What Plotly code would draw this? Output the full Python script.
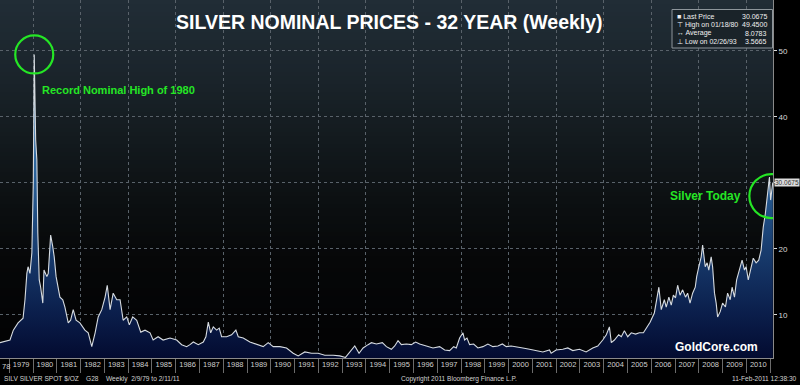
import plotly.graph_objects as go

# ---------------- data ----------------
years = [
    1978.61, 1979.03, 1979.17, 1979.37, 1979.58, 1979.66, 1979.74, 1979.79, 1979.87, 1979.95,
    1980.01, 1980.05, 1980.11, 1980.16, 1980.20, 1980.26, 1980.32, 1980.41, 1980.46, 1980.58,
    1980.64, 1980.74, 1980.83, 1980.89, 1980.97, 1981.06, 1981.13, 1981.25, 1981.34, 1981.48,
    1981.58, 1981.69, 1981.81, 1981.97, 1982.18, 1982.32, 1982.47, 1982.61, 1982.74, 1982.89,
    1983.03, 1983.12, 1983.24, 1983.37, 1983.52, 1983.66, 1983.79, 1983.94, 1984.05, 1984.19,
    1984.36, 1984.53, 1984.71, 1984.92, 1985.05, 1985.26, 1985.47, 1985.76, 1986.04, 1986.25,
    1986.46, 1986.60, 1986.74, 1986.95, 1987.16, 1987.27, 1987.37, 1987.47, 1987.58, 1987.72,
    1987.83, 1987.93, 1988.14, 1988.35, 1988.53, 1988.63, 1988.84, 1989.12, 1989.40, 1989.68,
    1989.89, 1990.10, 1990.38, 1990.66, 1990.94, 1991.15, 1991.43, 1991.71, 1991.99, 1992.27,
    1992.62, 1992.90, 1993.14, 1993.32, 1993.53, 1993.71, 1993.88, 1994.09, 1994.23, 1994.44,
    1994.69, 1994.86, 1995.07, 1995.21, 1995.35, 1995.49, 1995.70, 1995.91, 1996.09, 1996.26,
    1996.54, 1996.82, 1997.10, 1997.31, 1997.52, 1997.69, 1997.80, 1997.94, 1998.08, 1998.15,
    1998.25, 1998.36, 1998.53, 1998.71, 1998.92, 1999.13, 1999.34, 1999.55, 1999.74, 1999.90,
    2000.11, 2000.32, 2000.60, 2000.88, 2001.16, 2001.44, 2001.72, 2001.79, 2002.00, 2002.28,
    2002.49, 2002.70, 2002.98, 2003.26, 2003.54, 2003.75, 2003.96, 2004.11, 2004.24, 2004.32,
    2004.45, 2004.63, 2004.74, 2004.87, 2005.01, 2005.16, 2005.34, 2005.50, 2005.67, 2005.81,
    2005.95, 2006.13, 2006.23, 2006.32, 2006.42, 2006.55, 2006.63, 2006.74, 2006.84, 2006.93,
    2007.02, 2007.11, 2007.21, 2007.32, 2007.44, 2007.53, 2007.63, 2007.74, 2007.85, 2007.91,
    2008.00, 2008.10, 2008.16, 2008.27, 2008.35, 2008.42, 2008.52, 2008.58, 2008.66, 2008.73,
    2008.79, 2008.90, 2009.00, 2009.12, 2009.21, 2009.32, 2009.40, 2009.50, 2009.59, 2009.71,
    2009.82, 2009.92, 2009.99, 2010.08, 2010.20, 2010.29, 2010.41, 2010.52, 2010.62, 2010.71,
    2010.80, 2010.88, 2010.97, 2011.02, 2011.11,
]
prices = [
    5.8, 6.2, 7.7, 8.8, 9.5, 12.3, 16.3, 17.3, 16.3, 19.4,
    30.0, 49.45, 36.5, 33.5, 22.4, 15.3, 14.2, 11.8, 16.8, 15.8,
    16.3, 22.1, 20.3, 18.8, 15.8, 14.2, 12.7, 12.3, 11.2, 8.8,
    9.2, 10.8, 9.2, 8.8, 7.7, 7.3, 5.2, 7.3, 9.7, 10.8,
    12.7, 14.5, 10.8, 13.3, 12.3, 12.3, 9.2, 9.7, 8.5, 9.7,
    9.2, 7.4, 7.7, 7.3, 6.2, 6.7, 6.2, 6.5, 6.2, 5.5,
    5.2, 5.5, 5.9, 5.5, 5.9, 6.7, 8.9, 7.3, 8.2, 7.7,
    8.0, 6.7, 6.7, 7.0, 7.7, 6.7, 6.5, 5.9, 5.5, 5.2,
    5.8, 5.2, 5.2, 5.0, 4.2, 3.8, 4.4, 4.2, 4.2, 3.9,
    3.9, 3.8, 3.57, 4.4, 5.3, 4.2, 5.0, 5.5, 5.8, 5.6,
    5.8, 5.2, 4.8, 5.3, 6.1, 5.5, 5.6, 5.5, 5.9, 5.6,
    5.3, 5.0, 5.2, 4.7, 4.6, 5.2, 5.0, 6.5, 7.3, 6.2,
    6.5, 5.5, 5.6, 5.0, 5.2, 5.6, 5.2, 5.3, 5.6, 5.2,
    5.3, 5.2, 5.0, 4.8, 4.6, 4.4, 4.7, 4.2, 4.7, 4.8,
    5.0, 4.6, 4.8, 4.4, 5.0, 5.3, 6.2, 7.0, 8.2, 5.8,
    6.2, 7.0, 6.7, 7.6, 6.7, 7.3, 7.1, 7.3, 7.3, 8.2,
    8.9, 10.3, 12.7, 14.2, 10.8, 12.3, 11.2, 12.7, 11.5, 13.0,
    12.6, 14.5, 13.0, 13.8, 12.7, 13.3, 11.8, 13.3, 14.2, 15.8,
    17.3, 18.8, 20.6, 17.3, 17.9, 16.8, 18.8, 17.3, 13.3, 11.8,
    9.7, 10.5, 11.8, 11.2, 13.3, 12.3, 14.2, 12.7, 15.3, 16.8,
    18.3, 16.8, 17.3, 15.3, 17.3, 18.6, 17.9, 18.3, 19.8, 23.3,
    25.4, 28.5, 30.9, 27.4, 30.0675,
]

year_labels = list(range(1979, 2011))
year_bounds = list(range(1979, 2012))
grid_years = [y for y in year_bounds if y % 2 == 0]
minor_years = [y for y in year_bounds if y % 2 == 1]
y_ticks = [10, 20, 30, 40, 50]
y_ticktext = ["10", "20", "", "40", "50"]

stat_names = ["\u25a0 Last Price", "\u22a4 High on 01/18/80", "\u2194 Average", "\u22a5 Low on 02/26/93"]
stat_values = ["30.0675", "49.4500", "8.0783", "3.5665"]
last_price = 30.0675
high_year, high_price = 1980.05, 49.45

title_text = "SILVER NOMINAL PRICES - 32 YEAR (Weekly)"

# ---------------- geometry helpers ----------------
W, H = 800, 385
PL, PR, PT, PB = 0, 773, 0, 358  # plot area in pixels


def px(xp):
    return (xp - PL) / (PR - PL)


def py(yp):
    return 1 - (yp - PT) / (PB - PT)


fig = go.Figure()

fig.add_trace(go.Scatter(
    x=years, y=prices, mode="lines",
    line=dict(color="#d6dbe0", width=1.1),
    fill="tozeroy",
    fillgradient=dict(
        type="vertical",
        colorscale=[[0, "#030b30"], [0.15, "#0b1f4c"], [0.35, "#183c6e"],
                    [0.6, "#2a629a"], [1, "#5a98ca"]],
        start=3.5, stop=50,
    ),
    hoverinfo="skip", showlegend=False,
))
# invisible trace to activate the label axis
fig.add_trace(go.Scatter(x=[years[0], years[-1]], y=[None, None], xaxis="x2",
                         mode="lines", showlegend=False, hoverinfo="skip"))

# ---------------- background gradient bands ----------------
stops = [(0, (33, 45, 54)), (70, (27, 37, 44)), (140, (19, 26, 30)),
         (200, (12, 16, 18)), (260, (6, 7, 8)), (358, (2, 2, 3))]


def col_at(yp):
    for (y0, c0), (y1, c1) in zip(stops[:-1], stops[1:]):
        if y0 <= yp <= y1:
            t = (yp - y0) / (y1 - y0)
            return "rgb(%d,%d,%d)" % tuple(round(a + (b - a) * t) for a, b in zip(c0, c1))
    return "rgb(2,2,3)"


shapes = []
band = 4
for yp in range(0, 358, band):
    shapes.append(dict(type="rect", xref="paper", yref="paper", x0=0, x1=1,
                       y0=py(min(yp + band, 358)), y1=py(yp), fillcolor=col_at(yp + band / 2),
                       line=dict(width=0), layer="below"))

# green circles
green = "#25e625"
shapes.append(dict(type="circle", xref="x", yref="y", xsizemode="pixel", ysizemode="pixel",
                   xanchor=high_year, yanchor=high_price, x0=-19, x1=19, y0=-19, y1=19,
                   line=dict(color=green, width=2.2), layer="above"))
shapes.append(dict(type="circle", xref="x", yref="y", xsizemode="pixel", ysizemode="pixel",
                   xanchor=2011.05, yanchor=28.0, x0=-22, x1=22, y0=-22, y1=22,
                   line=dict(color=green, width=2.2), layer="above"))

# stats box
shapes.append(dict(type="rect", xref="paper", yref="paper", x0=px(672), x1=px(772.5),
                   y0=py(48), y1=py(9.5), fillcolor="#1a2329",
                   line=dict(color="#8d959b", width=1), layer="above"))

annotations = []
annotations.append(dict(text="<b>" + title_text + "</b>", xref="paper", yref="paper",
                        x=px(390), y=py(22), xanchor="center", yanchor="middle", showarrow=False,
                        font=dict(family="Liberation Sans, Arial", size=19.5, color="white")))
annotations.append(dict(text="<b>Record Nominal High of 1980</b>", xref="paper", yref="paper",
                        x=px(40), y=py(90), xanchor="left", yanchor="middle", showarrow=False,
                        font=dict(family="Liberation Sans, Arial", size=11, color=green)))
annotations.append(dict(text="<b>Silver Today</b>", xref="paper", yref="paper",
                        x=px(743), y=py(196), xanchor="right", yanchor="middle", showarrow=False,
                        font=dict(family="Liberation Sans, Arial", size=12, color=green)))
annotations.append(dict(text="<b>GoldCore.com</b>", xref="paper", yref="paper",
                        x=px(716), y=py(346.5), xanchor="center", yanchor="middle", showarrow=False,
                        font=dict(family="Liberation Sans, Arial", size=12, color="white")))

for i, (nm, val) in enumerate(zip(stat_names, stat_values)):
    ypix = 16.5 + i * 8.4
    annotations.append(dict(text=nm, xref="paper", yref="paper", x=px(675), y=py(ypix),
                            xanchor="left", yanchor="middle", showarrow=False,
                            font=dict(family="Liberation Sans, Arial", size=7, color="#f0f0f0")))
    annotations.append(dict(text=val, xref="paper", yref="paper", x=px(769), y=py(ypix),
                            xanchor="right", yanchor="middle", showarrow=False,
                            font=dict(family="Liberation Sans, Arial", size=7, color="#f0f0f0")))

# last price tag on right axis
annotations.append(dict(text="%.4f" % last_price, xref="paper", yref="y", x=px(774), y=last_price,
                        xanchor="left", yanchor="middle", showarrow=False, bgcolor="#dcdcdc",
                        borderpad=0, font=dict(family="Liberation Sans, Arial", size=6.5, color="#333333")))

# partially visible 1978 label
annotations.append(dict(text="78", xref="paper", yref="paper", x=0, y=py(366),
                        xanchor="left", yanchor="middle", showarrow=False,
                        font=dict(family="Liberation Sans, Arial", size=7.5, color="#cfcfcf")))

# footer
foot_font = dict(family="Liberation Sans, Arial", size=6.6, color="#d2d2d2")
for txt, xp, anc in [("SILV SILVER SPOT $/OZ", 2, "left"), ("G28", 84, "left"),
                     ("Weekly  2/9/79 to 2/11/11", 104, "left"),
                     ("Copyright 2011 Bloomberg Finance L.P.", 399, "left"),
                     ("11-Feb-2011 12:38:30", 799, "right")]:
    annotations.append(dict(text=txt.replace(" ", "\u00a0"), xref="paper", yref="paper",
                            x=px(xp), y=py(378.5), xanchor=anc, yanchor="middle",
                            showarrow=False, font=foot_font))

xr = [1978.61, 2011.12]
fig.update_layout(
    width=W, height=H,
    margin=dict(l=PL, r=W - PR, t=PT, b=H - PB, pad=0),
    paper_bgcolor="black", plot_bgcolor="#050505",
    showlegend=False,
    shapes=shapes, annotations=annotations,
    xaxis=dict(range=xr, tickmode="array", tickvals=grid_years, showticklabels=False,
               ticks="outside", ticklen=14, tickcolor="#6b6b6b", tickwidth=1,
               showgrid=True, gridcolor="#59626a", griddash="dot", gridwidth=1,
               minor=dict(tickmode="array", tickvals=minor_years, ticks="outside", ticklen=14,
                          tickcolor="#6b6b6b", showgrid=False),
               showline=True, linecolor="#8a8a8a", zeroline=False, fixedrange=True),
    xaxis2=dict(range=xr, overlaying="x", side="bottom", tickmode="array",
                tickvals=[y + 0.5 for y in year_labels], ticktext=[str(y) for y in year_labels],
                ticks="", showgrid=False, zeroline=False, showline=False,
                tickfont=dict(family="Liberation Sans, Arial", size=7.5, color="#cfcfcf")),
    yaxis=dict(range=[3.48, 57.7], side="right", tickmode="array", tickvals=y_ticks,
               ticktext=y_ticktext, ticks="outside", ticklen=3, tickcolor="#dddddd",
               tickfont=dict(family="Liberation Sans, Arial", size=8, color="#d8d8d8"),
               showgrid=True, gridcolor="#59626a", griddash="dot", gridwidth=1,
               showline=True, linecolor="#8a8a8a", zeroline=False, fixedrange=True),
)

fig.write_html("out.html", config={"displayModeBar": False},
               post_script="document.body.style.margin='0px';"
                           "document.body.style.background='black';")
